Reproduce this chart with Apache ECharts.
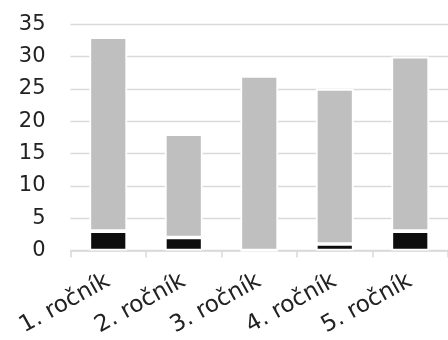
<!DOCTYPE html>
<html><head><meta charset="utf-8">
<script src="https://cdn.jsdelivr.net/npm/echarts@6/dist/echarts.min.js"></script>
<style>html,body{margin:0;padding:0;background:#fff}#c{width:448px;height:340px}</style>
</head><body><div id="c"></div>
<script>
const categories = ['1. ročník', '2. ročník', '3. ročník', '4. ročník', '5. ročník'];
const blackValues = [3, 2, 0, 1, 3];
const greyValues = [30, 16, 27, 24, 27];
const yTicks = [0, 5, 10, 15, 20, 25, 30, 35];

const font = '"DejaVu Sans", sans-serif';
const chart = echarts.init(document.getElementById('c'));
chart.setOption({
  animation: false,
  grid: { left: 70.5, right: -5, top: 24.3, bottom: 89.5, containLabel: false },
  xAxis: {
    type: 'category',
    data: categories,
    boundaryGap: true,
    axisLine: { lineStyle: { color: '#d9d9d9', width: 1.5 } },
    axisTick: { show: true, interval: 0, length: 7, lineStyle: { color: '#d9d9d9', width: 1.5 } },
    axisLabel: { interval: 0, hideOverlap: false, rotate: 29, margin: 29, fontSize: 23, color: '#222', fontFamily: font }
  },
  yAxis: {
    type: 'value',
    min: yTicks[0], max: yTicks[yTicks.length - 1], interval: 5,
    axisLine: { show: false }, axisTick: { show: false },
    splitLine: { lineStyle: { color: '#d9d9d9', width: 1.3 } },
    axisLabel: { margin: 25, fontSize: 21, color: '#222', fontFamily: font }
  },
  series: [
    { type: 'bar', stack: 's', data: blackValues, barWidth: '50%',
      itemStyle: { color: '#0d0d0d', borderColor: '#fff', borderWidth: 1.8 } },
    { type: 'bar', stack: 's', data: greyValues, barWidth: '50%',
      itemStyle: { color: '#bfbfbf', borderColor: '#fff', borderWidth: 1.8 } }
  ]
});
</script></body></html>
